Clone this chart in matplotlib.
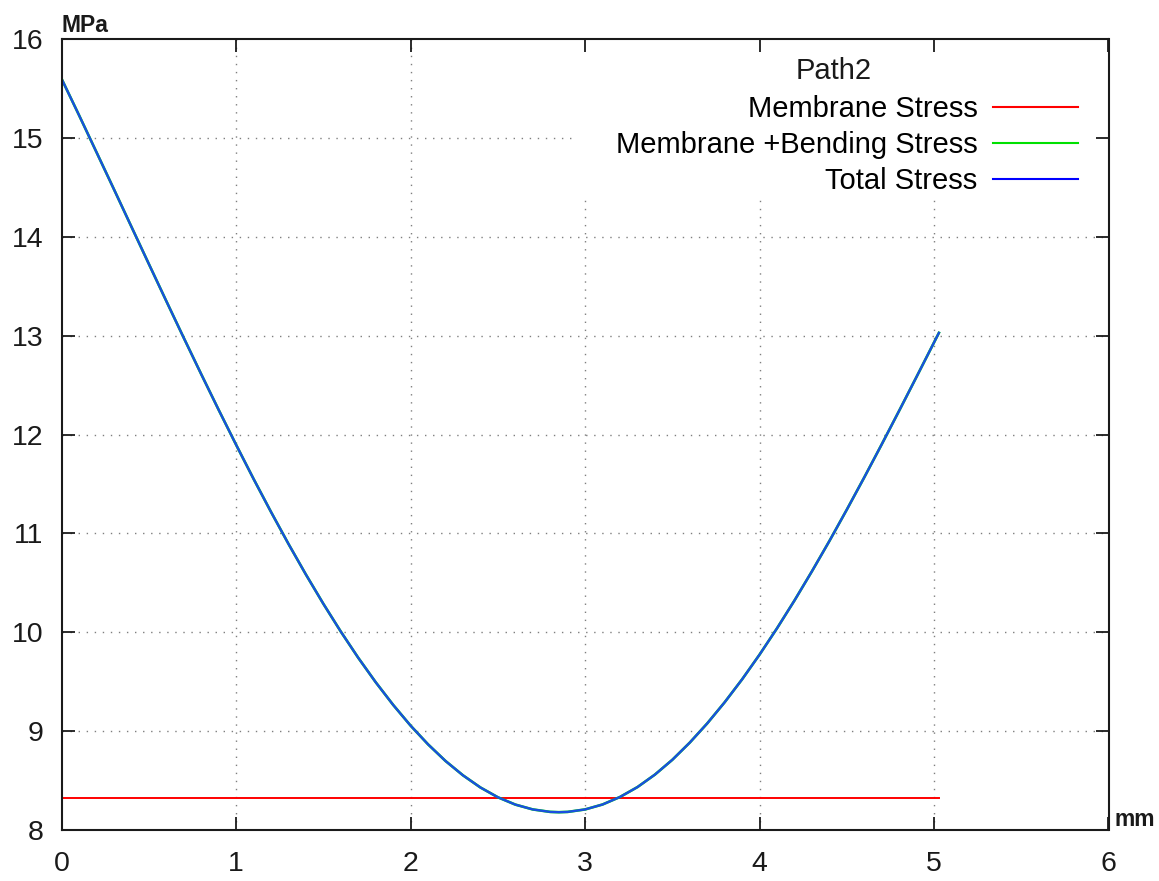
import matplotlib
matplotlib.use("Agg")
import matplotlib.pyplot as plt
from matplotlib.patches import Rectangle

# Stress linearisation along Path2 (distance in mm, stress in MPa)
path_x = [0.0, 0.1, 0.2, 0.3, 0.4, 0.5, 0.6, 0.7, 0.8, 0.9, 1.0, 1.1, 1.2,
          1.3, 1.4, 1.5, 1.6, 1.7, 1.8, 1.9, 2.0, 2.1, 2.2, 2.3, 2.4, 2.5,
          2.6, 2.7, 2.8, 2.85, 2.9, 3.0, 3.1, 3.2, 3.3, 3.4, 3.5, 3.6, 3.7,
          3.8, 3.9, 4.0, 4.1, 4.2, 4.3, 4.4, 4.5, 4.6, 4.7, 4.8, 4.9, 5.0,
          5.028]
total_stress = [15.595, 15.227, 14.853, 14.478, 14.100, 13.723, 13.348,
                12.976, 12.609, 12.248, 11.895, 11.550, 11.216, 10.893,
                10.583, 10.287, 10.006, 9.741, 9.494, 9.265, 9.055, 8.866,
                8.698, 8.553, 8.430, 8.331, 8.257, 8.208, 8.183, 8.180,
                8.183, 8.208, 8.258, 8.334, 8.434, 8.560, 8.710, 8.884,
                9.078, 9.292, 9.524, 9.774, 10.040, 10.321, 10.616, 10.922,
                11.240, 11.566, 11.900, 12.240, 12.584, 12.931, 13.028]
membrane_bending_stress = list(total_stress)
membrane_x = [0.0, 5.028]
membrane_stress = [8.32, 8.32]

x_ticks = [0, 1, 2, 3, 4, 5, 6]
y_ticks = [8, 9, 10, 11, 12, 13, 14, 15, 16]

W, H = 1159, 881
fig = plt.figure(figsize=(W / 100, H / 100), dpi=100)
left, right, top, bottom = 61.7, 1108.5, 39.0, 830.0
ax = fig.add_axes([left / W, 1 - bottom / H, (right - left) / W, (bottom - top) / H])

ax.set_xlim(0, 6)
ax.set_ylim(8, 16)

# dotted grid drawn by hand so the key box can sit between grid and ticks
for xv in x_ticks[1:-1]:
    ax.axvline(xv, color="#7f7f7f", linestyle=(0, (1, 4.8)), linewidth=1.0, zorder=0.8)
for yv in y_ticks[1:-1]:
    ax.axhline(yv, color="#7f7f7f", linestyle=(0, (1, 4.8)), linewidth=1.0, zorder=0.8)

# opaque key area
key_x0 = (574 - left) / (right - left)
key_y0 = 1 - (196 - top) / (bottom - top)
ax.add_patch(Rectangle((key_x0, key_y0), 1 - key_x0, 1 - key_y0,
                       transform=ax.transAxes, facecolor="white",
                       edgecolor="none", zorder=1.2))

ax.plot(membrane_x, membrane_stress, color="#ff0000", linewidth=1.4,
        label="Membrane Stress", zorder=2)
ax.plot(path_x, membrane_bending_stress, color="#00e000", linewidth=1.9,
        label="Membrane +Bending Stress", zorder=2.1)
ax.plot(path_x, total_stress, color="#1a4ee0", linewidth=1.7,
        label="Total Stress", zorder=2.2)

ax.set_xticks(x_ticks)
ax.set_yticks(y_ticks)
ax.set_xticklabels([str(v) for v in x_ticks])
ax.set_yticklabels([str(v) for v in y_ticks])

for lab in ax.get_xticklabels() + ax.get_yticklabels():
    lab.set_fontfamily("Liberation Sans")
    lab.set_fontsize(20.5)
    lab.set_color("#1a1a1a")

ax.tick_params(axis="both", which="major", direction="in", length=9.4,
               width=1.3, color="#1a1a1a", top=True, right=True)
ax.tick_params(axis="x", pad=15)
ax.tick_params(axis="y", pad=13)

for sp in ax.spines.values():
    sp.set_linewidth(1.5)
    sp.set_color("#1a1a1a")

leg = ax.legend(loc="upper right",
                bbox_to_anchor=((1078 - left) / (right - left), 1 - (95 - top) / (bottom - top)),
                markerfirst=False, frameon=False,
                prop=dict(family="Liberation Sans", size=21),
                handlelength=2.9, handletextpad=0.55, labelspacing=0.27,
                borderpad=0, borderaxespad=0)
leg.set_zorder(3)
for line in leg.get_lines():
    line.set_linewidth(1.5)
leg.get_lines()[2].set_color("#0000ff")

ax.text((834 - left) / (right - left), 1 - (71 - top) / (bottom - top), "Path2",
        transform=ax.transAxes, ha="center", va="center", zorder=3,
        family="Liberation Sans", size=21, color="#1a1a1a")

fig.text(62 / W, 1 - 32 / H, "MPa", ha="left", va="baseline",
         family="Liberation Sans", weight="bold", size=16.5, color="#1a1a1a")
fig.text(1115 / W, 1 - 826 / H, "mm", ha="left", va="baseline",
         family="Liberation Sans", weight="bold", size=16.5, color="#1a1a1a")

fig.savefig("out.png", dpi=100, facecolor="white")
